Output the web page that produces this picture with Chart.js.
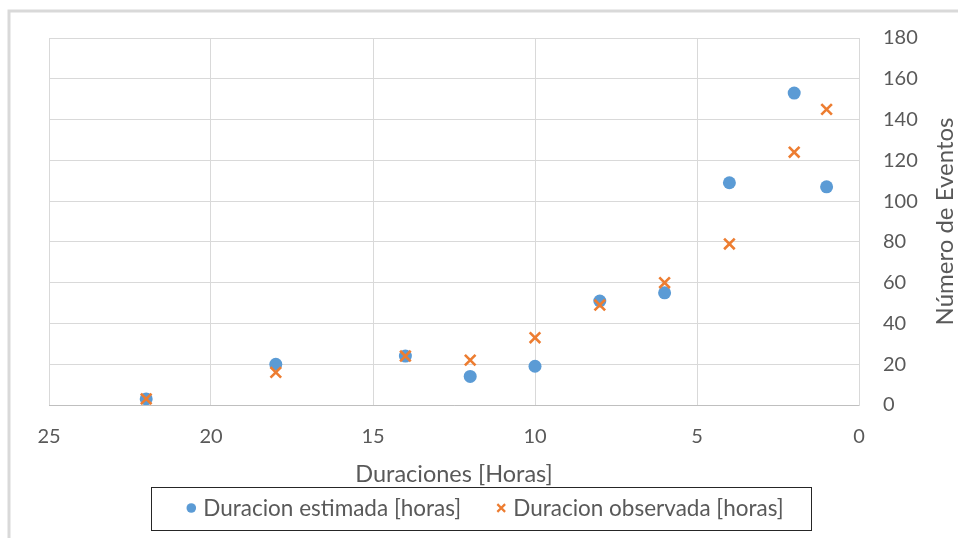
<!DOCTYPE html>
<html>
<head>
<meta charset="utf-8">
<script src="https://cdn.jsdelivr.net/npm/chart.js@4"></script>
<style>
  html, body { margin: 0; padding: 0; background: #ffffff; }
  #wrap { width: 958px; height: 538px; }
</style>
</head>
<body>
<div id="wrap"><canvas id="chart" width="958" height="538"></canvas></div>
<script>
// Duración de eventos (horas) frente al número de eventos
const durations = [22, 18, 14, 12, 10, 8, 6, 4, 2, 1];
const estimatedEvents = [3, 20, 24, 14, 19, 51, 55, 109, 153, 107];
const observedEvents = [3, 16, 24, 22, 33, 49, 60, 79, 124, 145];
const seriesLabels = ['Duracion estimada [horas]', 'Duracion observada [horas]'];
const xTitle = 'Duraciones [Horas]';
const yTitle = 'Número de Eventos';

const FONT = 'Lato, "Open Sans", sans-serif';
const TEXT = '#595959';
const GRID = '#d9d9d9';

const toPoints = (xs, ys) => xs.map((x, i) => ({ x: x, y: ys[i] }));

// White background and the light outer frame (top and left edges)
const framePlugin = {
  id: 'frame',
  beforeDraw(chart) {
    const ctx = chart.ctx;
    ctx.save();
    ctx.fillStyle = '#ffffff';
    ctx.fillRect(0, 0, chart.width, chart.height);
    ctx.strokeStyle = GRID;
    ctx.lineWidth = 3;
    ctx.beginPath();
    ctx.moveTo(9, chart.height);
    ctx.lineTo(9, 11);
    ctx.lineTo(chart.width, 11);
    ctx.stroke();
    ctx.restore();
  }
};

// Vertical title for the right-hand axis, reading bottom to top
const yTitlePlugin = {
  id: 'yTitle',
  afterDraw(chart) {
    const ctx = chart.ctx;
    const area = chart.chartArea;
    ctx.save();
    ctx.translate(945, (area.top + area.bottom) / 2);
    ctx.rotate(-Math.PI / 2);
    ctx.font = '24px ' + FONT;
    ctx.fillStyle = TEXT;
    ctx.textAlign = 'center';
    ctx.textBaseline = 'middle';
    ctx.fillText(yTitle, 0, 0);
    ctx.restore();
  }
};

// Legend with a framed box under the axis title
const boxedLegendPlugin = {
  id: 'boxedLegend',
  afterDraw(chart) {
    const ctx = chart.ctx;
    const sets = chart.data.datasets;
    const markerW = 10, markerGap = 7, itemGap = 35, padL = 35, padR = 28;
    const cy = 508;
    const cx = 485;
    ctx.save();
    ctx.font = '22.5px ' + FONT;
    const widths = sets.map(ds => markerW + markerGap + ctx.measureText(ds.label).width);
    const total = widths.reduce((a, b) => a + b, 0) + itemGap * (sets.length - 1);
    let x = cx - total / 2;
    // frame
    ctx.strokeStyle = '#262626';
    ctx.lineWidth = 1;
    ctx.strokeRect(Math.round(x - padL) + 0.5, 487.5, Math.round(total + padL + padR), 43);
    sets.forEach((ds, i) => {
      const style = {
        pointStyle: ds.pointStyle,
        radius: ds.pointStyle === 'circle' ? 4.8 : 5.5,
        borderWidth: ds.pointStyle === 'circle' ? 0 : 2.2,
        rotation: 0
      };
      ctx.fillStyle = ds.backgroundColor;
      ctx.strokeStyle = ds.borderColor;
      ctx.lineWidth = style.borderWidth;
      Chart.helpers.drawPoint(ctx, style, x + markerW / 2, cy);
      ctx.fillStyle = TEXT;
      ctx.textAlign = 'left';
      ctx.textBaseline = 'middle';
      ctx.fillText(ds.label, x + markerW + markerGap, cy + 1);
      x += widths[i] + itemGap;
    });
    ctx.restore();
  }
};

new Chart(document.getElementById('chart'), {
  type: 'scatter',
  data: {
    datasets: [
      {
        label: seriesLabels[0],
        data: toPoints(durations, estimatedEvents),
        pointStyle: 'circle',
        backgroundColor: '#5B9BD5',
        borderColor: '#5B9BD5',
        borderWidth: 0,
        pointRadius: 6.5,
        pointHoverRadius: 6.5,
        order: 1
      },
      {
        label: seriesLabels[1],
        data: toPoints(durations, observedEvents),
        pointStyle: 'crossRot',
        backgroundColor: '#ED7D31',
        borderColor: '#ED7D31',
        borderWidth: 2.6,
        pointRadius: 7.5,
        pointHoverRadius: 7.5,
        order: 0
      }
    ]
  },
  options: {
    responsive: false,
    animation: false,
    events: [],
    layout: { padding: { left: 49, top: 38, right: 0, bottom: 49 } },
    plugins: {
      legend: { display: false },
      tooltip: { enabled: false }
    },
    scales: {
      x: {
        type: 'linear',
        position: 'bottom',
        reverse: true,
        min: 0,
        max: 25,
        ticks: {
          stepSize: 5,
          color: TEXT,
          font: { family: FONT, size: 20 },
          padding: 20,
          maxRotation: 0
        },
        grid: { color: GRID, lineWidth: 1, drawTicks: false },
        border: { color: '#bfbfbf', width: 1 },
        title: {
          display: true,
          text: xTitle,
          color: TEXT,
          font: { family: FONT, size: 23.5 },
          padding: { top: 0, bottom: 0 }
        },
        afterFit(scale) { scale.height = 84; }
      },
      y: {
        type: 'linear',
        position: 'right',
        min: 0,
        max: 180,
        ticks: {
          stepSize: 20,
          color: TEXT,
          font: { family: FONT, size: 20 },
          padding: 24
        },
        grid: { color: GRID, lineWidth: 1, drawTicks: false },
        border: { color: GRID, width: 1 },
        afterFit(scale) { scale.width = 99; }
      }
    }
  },
  plugins: [framePlugin, yTitlePlugin, boxedLegendPlugin]
});
</script>
</body>
</html>
